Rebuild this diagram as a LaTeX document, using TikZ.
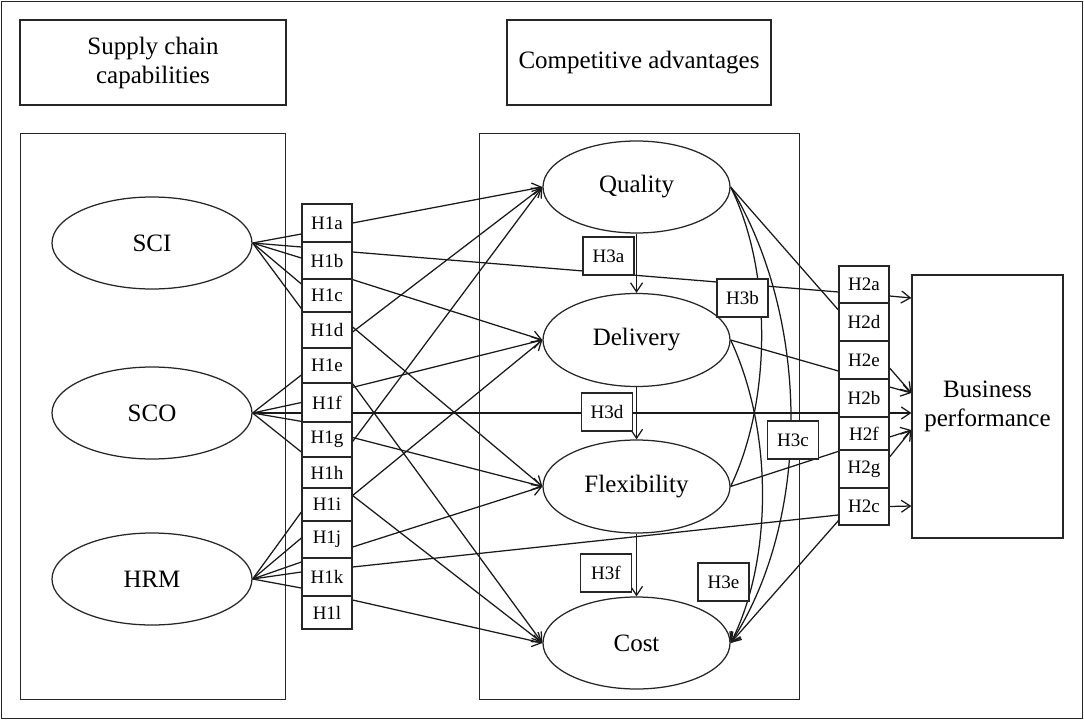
\documentclass[tikz,border=0pt]{standalone}
\usepackage{fontspec}
\setmainfont{Liberation Serif}
\usetikzlibrary{shapes.geometric,arrows.meta,calc}
\pgfdeclarelayer{bg}
\pgfsetlayers{bg,main}
\begin{document}
\begin{tikzpicture}[x=1pt,y=-1pt, line width=1.25pt,
  every node/.style={font=\fontsize{25}{29}\selectfont, inner sep=0pt},
  frame/.style={draw=black!85, fill=white, line width=1.25pt},
  oval/.style={draw=black!85, fill=white, ellipse, inner sep=0pt, line width=1.25pt},
  hbox/.style={draw=black!85, fill=white, minimum width=50pt, line width=1.25pt, font=\fontsize{19}{21}\selectfont},
  conn/.style={draw=black!90, line width=1.25pt},
  arr/.style={conn, -{Straight Barb[length=9pt,width=12pt]}}]
\useasboundingbox (0,0) rectangle (1084,720);

% header boxes
\node[frame, minimum width=266pt, minimum height=85pt, align=center] (SCC) at (153,62.5) {Supply chain\\capabilities};
\node[frame, minimum width=264pt, minimum height=85pt] (CA) at (639,62.5) {Competitive advantages};

% left ovals
\node[oval, minimum width=200pt, minimum height=92pt] (SCI) at (152,243) {SCI};
\node[oval, minimum width=200pt, minimum height=92pt] (SCO) at (152,413) {SCO};
\node[oval, minimum width=200pt, minimum height=92pt] (HRM) at (152,579) {HRM};

% middle ovals
\node[oval, minimum width=187pt, minimum height=92pt] (Quality) at (636.5,187) {Quality};
\node[oval, minimum width=187pt, minimum height=93pt] (Delivery) at (636.5,340) {Delivery};
\node[oval, minimum width=187pt, minimum height=93pt] (Flexibility) at (636.5,486.5) {Flexibility};
\node[oval, minimum width=187pt, minimum height=92pt] (Cost) at (636.5,643) {Cost};

% business performance
\node[frame, minimum width=151pt, minimum height=263pt, align=center] (BP) at (987.5,406.5) {Business\\performance};

% H1 boxes
\node[hbox, minimum height=38pt] (H1a) at (327,223) {H1a};
\node[hbox, minimum height=37pt] (H1b) at (327,260.5) {H1b};
\node[hbox, minimum height=33pt] (H1c) at (327,295.5) {H1c};
\node[hbox, minimum height=36pt] (H1d) at (327,330) {H1d};
\node[hbox, minimum height=35pt] (H1e) at (327,365.5) {H1e};
\node[hbox, minimum height=39pt] (H1f) at (327,402.5) {H1f};
\node[hbox, minimum height=35pt] (H1g) at (327,439.5) {H1g};
\node[hbox, minimum height=31pt] (H1h) at (327,472.5) {H1h};
\node[hbox, minimum height=33pt] (H1i) at (327,504.5) {H1i};
\node[hbox, minimum height=37pt] (H1j) at (327,539.5) {H1j};
\node[hbox, minimum height=38pt] (H1k) at (327,577) {H1k};
\node[hbox, minimum height=33pt] (H1l) at (327,612.5) {H1l};

% H2 boxes
\node[hbox, minimum height=37pt] (H2a) at (864,284.5) {H2a};
\node[hbox, minimum height=38pt] (H2d) at (864,322) {H2d};
\node[hbox, minimum height=38pt] (H2e) at (864,360) {H2e};
\node[hbox, minimum height=38pt] (H2b) at (864,398) {H2b};
\node[hbox, minimum height=33pt] (H2f) at (864,433.5) {H2f};
\node[hbox, minimum height=38pt] (H2g) at (864,469) {H2g};
\node[hbox, minimum height=37pt] (H2c) at (864,506.5) {H2c};

% H3 boxes
\node[hbox, minimum width=51pt, minimum height=38pt] (H3a) at (608.5,256) {H3a};
\node[hbox, minimum width=51pt, minimum height=38pt] (H3b) at (742.5,298) {H3b};
\node[hbox, minimum width=51pt, minimum height=38pt] (H3d) at (607,412) {H3d};
\node[hbox, minimum width=51pt, minimum height=38pt] (H3c) at (793,440) {H3c};
\node[hbox, minimum width=51pt, minimum height=38pt] (H3f) at (606,573) {H3f};
\node[hbox, minimum width=51pt, minimum height=38pt] (H3e) at (723.5,582) {H3e};

\begin{pgfonlayer}{bg}
\draw[draw=black!85, fill=white] (1.5,1.5) rectangle (1082.5,718.5);
\draw[draw=black!85] (20,133) rectangle (285,699);
\draw[draw=black!85] (479,133) rectangle (799,699);

% SCI fan
\draw[conn] (SCI.east) -- ([yshift=-11pt]H1a.west);
\draw[conn] (SCI.east) -- ([yshift=13.5pt]H1b.west);
\draw[conn] (SCI.east) -- ([yshift=2.5pt]H1b.west);
\draw[conn] (SCI.east) -- ([yshift=11.5pt]H1c.west);
\draw[conn] (SCI.east) -- ([yshift=4pt]H1c.south west);
% SCO fan
\draw[conn] (SCO.east) -- ([yshift=-9.5pt]H1e.west);
\draw[conn] (SCO.east) -- (H1f.west);
\draw[conn] (SCO.east) -- (H1g.north west);
\draw[conn] (SCO.east) -- ([yshift=-12.5pt]H1g.west);
\draw[arr] (SCO.east) -- (SCO.east -| BP.west);
% HRM fan
\draw[conn] (HRM.east) -- ([yshift=-7.5pt]H1i.west);
\draw[conn] (HRM.east) -- ([yshift=1.5pt]H1j.west);
\draw[conn] (HRM.east) -- ([yshift=15pt]H1k.west);
\draw[conn] (HRM.east) -- ([yshift=5pt]H1k.west);
\draw[conn] (HRM.east) -- ([yshift=-11pt]H1k.west);

% H1 to competitive advantages
\draw[arr] (H1a.east) -- (Quality.west);
\draw[conn] ([yshift=8.5pt]H1b.east) -- ([yshift=-7.5pt]H2a.west);
\draw[arr] (H1b.south east) -- (Delivery.west);
\draw[arr] ([yshift=-2pt]H1d.east) -- (Quality.west);
\draw[arr] ([yshift=3pt]H1d.east) -- (Flexibility.west);
\draw[arr] (H1e.south east) -- (Cost.west);
\draw[arr] ([yshift=-5pt]H1f.north east) -- (Delivery.west);
\draw[arr] ([yshift=-2pt]H1g.east) -- (Quality.west);
\draw[arr] ([yshift=2pt]H1g.east) -- (Flexibility.west);
\draw[arr] ([yshift=9pt]H1i.east) -- (Delivery.west);
\draw[arr] ([yshift=9pt]H1i.east) -- (Cost.west);
\draw[arr] ([yshift=-7.5pt]H1j.east) -- (Flexibility.west);
\draw[conn] ([yshift=10pt]H1k.east) -- ([yshift=-8.5pt]H2c.west);
\draw[arr] ([yshift=12.5pt]H1l.east) -- (Cost.west);

% between competitive advantages
\draw[arr] (Quality.south) -- (Delivery.north);
\draw[arr] (Delivery.south) -- (Flexibility.north);
\draw[arr] (Flexibility.south) -- (Cost.north);
\draw[conn] (Quality.east) .. controls (772,270) and (772,400) .. (Flexibility.east);
\draw[arr] (Quality.east) .. controls (811,320) and (811,520) .. (Cost.east);
\draw[arr] (Delivery.east) .. controls (773,430) and (773,560) .. (Cost.east);

% to H2 boxes
\draw[conn] (Quality.east) -- ([yshift=12pt]H2d.west);
\draw[conn] (Delivery.east) -- ([yshift=-11pt]H2e.west);
\draw[conn] (Flexibility.east) -- ([yshift=-2pt]H2g.north west);
\draw[arr] ([yshift=5pt]H2c.south west) -- (Cost.east);

% H2 to business performance
\draw[arr] ([yshift=-11.5pt]H2a.east) -- ([yshift=108.5pt]BP.west);
\draw[arr] ([yshift=-8pt]H2e.east) -- ([yshift=13.5pt]BP.west);
\draw[arr] ([yshift=11pt]H2b.east) -- ([yshift=13.5pt]BP.west);
\draw[arr] ([yshift=-3.5pt]H2f.east) -- ([yshift=-23.5pt]BP.west);
\draw[arr] ([yshift=12pt]H2g.east) -- ([yshift=-23.5pt]BP.west);
\draw[arr] (H2c.east) -- ([yshift=-99.5pt]BP.west);
\end{pgfonlayer}
\end{tikzpicture}
\end{document}
